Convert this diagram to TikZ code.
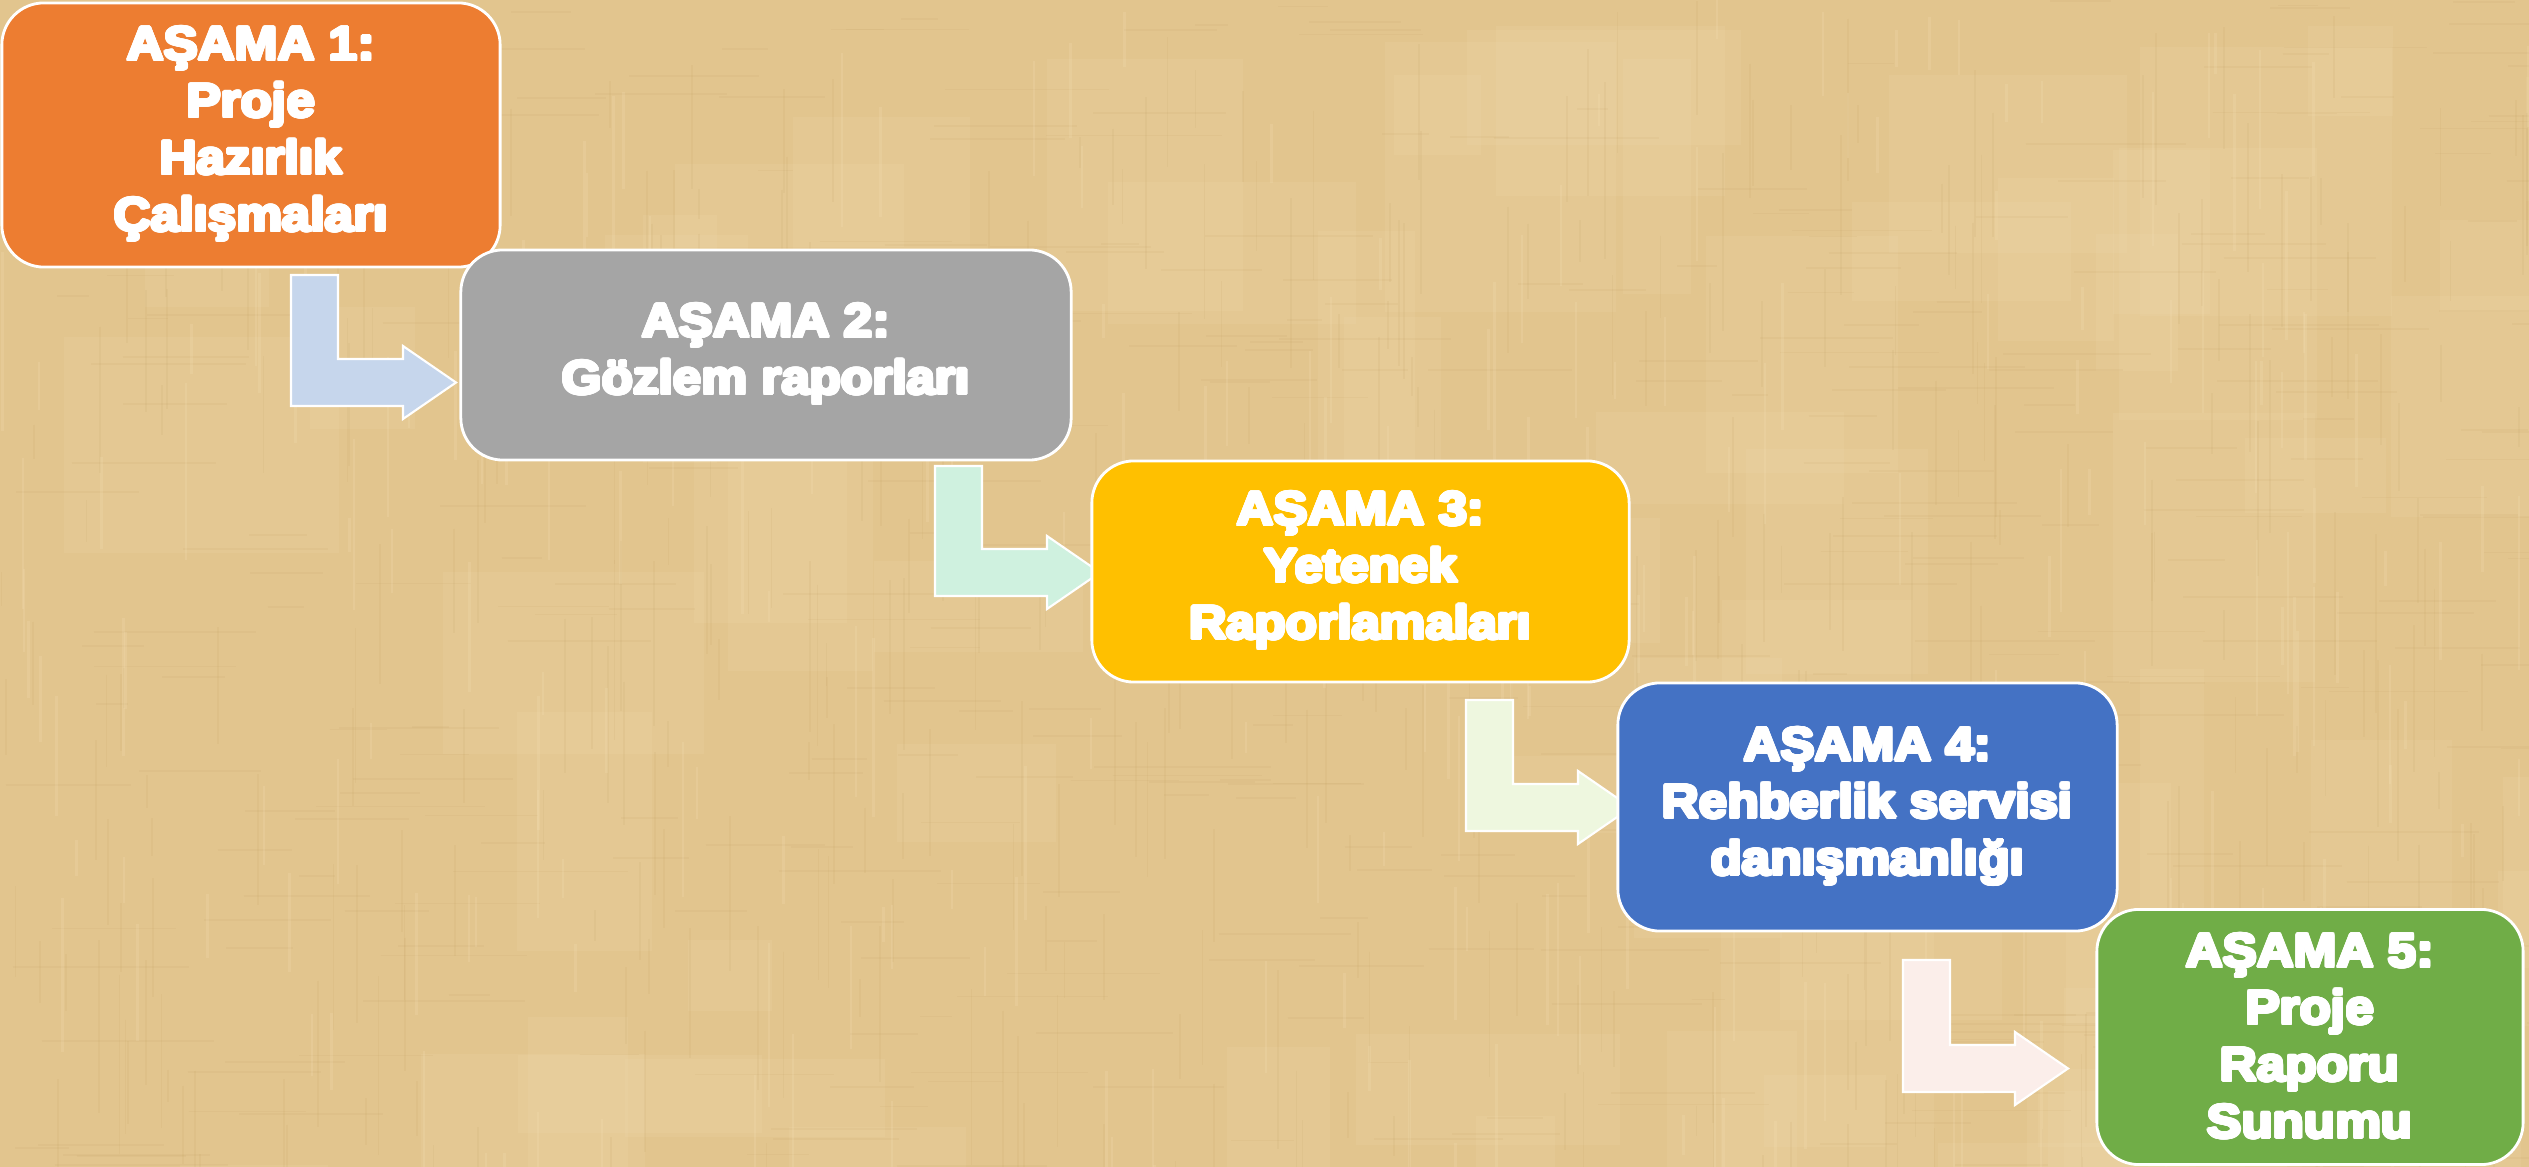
\documentclass[tikz,border=0pt]{standalone}
\usepackage{fontspec}
\usepackage[copies]{contour}
\contourlength{0.45pt}
\contournumber{20}
\newfontfamily\stagefont{Liberation Sans}[FakeStretch=1.08]
\newcommand\heavy[1]{\contour{white}{#1}}
\definecolor{paper}{RGB}{226,197,142}
\definecolor{paperdark}{RGB}{176,138,74}
\definecolor{paperlight}{RGB}{246,226,184}
\definecolor{c1}{HTML}{ED7D31}
\definecolor{c2}{HTML}{A5A5A5}
\definecolor{c3}{HTML}{FFC000}
\definecolor{c4}{HTML}{4472C4}
\definecolor{c5}{HTML}{70AD47}
\definecolor{a1}{HTML}{C6D6EC}
\definecolor{a2}{HTML}{CFF1DF}
\definecolor{a3}{HTML}{EEF7DF}
\definecolor{a4}{HTML}{FBEEEA}
\pgfdeclarelayer{paperlayer}
\pgfdeclarelayer{arrowlayer}
\pgfsetlayers{paperlayer,arrowlayer,main}
\tikzset{
  stage/.style={draw=white, line width=0.8pt, rounded corners=0.42cm,
    text=white, align=center, inner sep=0pt,
    font=\stagefont\bfseries\fontsize{13.5}{16.2}\selectfont},
  larrow/.style={draw=white, line width=0.6pt}
}
% L-shaped block arrow: fill, bar left x, top y, band bottom y, head base x
\newcommand\stagearrow[5]{%
  \filldraw[larrow, fill=#1]
    (#2,#3) -- ({#2+47},#3) -- ({#2+47},{#4-47}) -- (#5,{#4-47})
    -- (#5,{#4-60}) -- ({#5+53},{#4-23.5}) -- (#5,{#4+13})
    -- (#5,#4) -- (#2,#4) -- cycle;}
\begin{document}
\begin{tikzpicture}[x=0.01cm, y=-0.01cm]
\useasboundingbox (0,0) rectangle (2529,1167);
\begin{pgfonlayer}{paperlayer}
  \fill[paper] (0,0) rectangle (2529,1167);
  \pgfmathsetseed{17}
  \foreach \i in {1,...,70}{
    \pgfmathsetmacro\xx{rnd*2529}
    \pgfmathsetmacro\yy{rnd*1167}
    \pgfmathsetmacro\ww{60+rnd*220}
    \pgfmathsetmacro\hh{60+rnd*220}
    \fill[paperlight, opacity=0.12] (\xx,\yy) rectangle ++(\ww,\hh);
  }
  \foreach \i in {1,...,400}{
    \pgfmathsetmacro\xx{rnd*2529}
    \pgfmathsetmacro\yy{rnd*1167}
    \pgfmathsetmacro\ll{30+rnd*150}
    \draw[paperdark, opacity=0.08, line width=0.5pt] (\xx,\yy) -- ++(0,\ll);
  }
  \foreach \i in {1,...,400}{
    \pgfmathsetmacro\xx{rnd*2529}
    \pgfmathsetmacro\yy{rnd*1167}
    \pgfmathsetmacro\ll{30+rnd*150}
    \draw[paperdark, opacity=0.07, line width=0.5pt] (\xx,\yy) -- ++(\ll,0);
  }
  \foreach \i in {1,...,250}{
    \pgfmathsetmacro\xx{rnd*2529}
    \pgfmathsetmacro\yy{rnd*1167}
    \pgfmathsetmacro\ll{30+rnd*150}
    \draw[paperlight, opacity=0.2, line width=0.7pt] (\xx,\yy) -- ++(0,\ll);
  }
\end{pgfonlayer}

\node[stage, fill=c1, minimum width=4.98cm, minimum height=2.64cm] (s1) at (251,135)
  {\heavy{AŞAMA 1:}\\\heavy{Proje}\\\heavy{Hazırlık}\\\heavy{Çalışmaları}};
\node[stage, fill=c2, minimum width=6.10cm, minimum height=2.10cm] (s2) at (766,355)
  {\heavy{AŞAMA 2:}\\\heavy{Gözlem raporları}};
\node[stage, fill=c3, minimum width=5.37cm, minimum height=2.21cm] (s3) at (1360.5,571.5)
  {\heavy{AŞAMA 3:}\\\heavy{Yetenek}\\\heavy{Raporlamaları}};
\node[stage, fill=c4, minimum width=4.99cm, minimum height=2.48cm] (s4) at (1867.5,807)
  {\heavy{AŞAMA 4:}\\\heavy{Rehberlik servisi}\\\heavy{danışmanlığı}};
\node[stage, fill=c5, minimum width=4.26cm, minimum height=2.55cm] (s5) at (2310,1037)
  {\heavy{AŞAMA 5:}\\\heavy{Proje}\\\heavy{Raporu}\\\heavy{Sunumu}};

\begin{pgfonlayer}{arrowlayer}
  \stagearrow{a1}{291}{275}{406}{403}
  \stagearrow{a2}{935}{466}{596}{1047}
  \stagearrow{a3}{1466}{700}{831}{1578}
  \stagearrow{a4}{1903}{960}{1092}{2015}
\end{pgfonlayer}
\end{tikzpicture}
\end{document}
